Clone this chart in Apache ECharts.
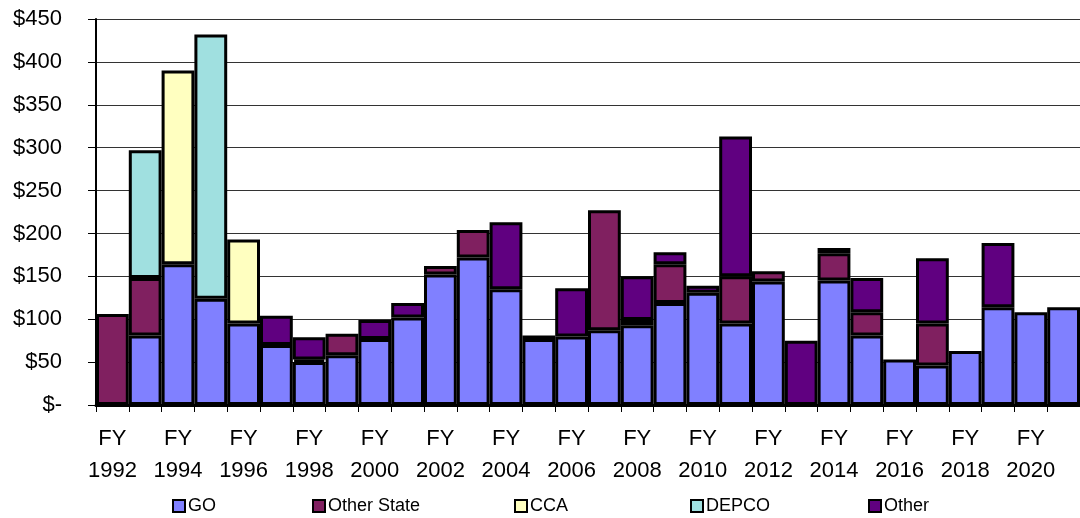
<!DOCTYPE html>
<html>
<head>
<meta charset="utf-8">
<script src="https://cdn.jsdelivr.net/npm/echarts@6/dist/echarts.min.js"></script>
<style>
  html, body { margin: 0; padding: 0; background: #fff; }
  #chart { width: 1080px; height: 518px; }
</style>
</head>
<body>
<div id="chart"></div>
<script>
// fiscal years FY1992 - FY2021
const years = [1992, 1993, 1994, 1995, 1996, 1997, 1998, 1999, 2000, 2001,
  2002, 2003, 2004, 2005, 2006, 2007, 2008, 2009, 2010, 2011,
  2012, 2013, 2014, 2015, 2016, 2017, 2018, 2019, 2020, 2021];

// $ millions (null = no piece)
const go = [null, 81, 164, 124, 95, 70, 50, 58, 77, 102,
  152, 172, 135, 77, 80, 87, 93, 119, 131, 95,
  144, null, 145, 81, 53, 46, 63, 114, 108, 114];
const otherState = [106, 67, null, null, null, null, 3, 25, null, null,
  10, 32, null, 4, null, 140, 6, 45, null, 55,
  12, null, 32, 27, null, 49, null, null, null, null];
const cca = [null, null, 226, null, 98, null, null, null, null, null,
  null, null, null, null, null, null, null, null, null, null,
  null, null, null, null, null, null, null, null, null, null];
const depco = [null, 149, null, 308, null, null, null, null, null, null,
  null, null, null, null, null, null, null, null, null, null,
  null, null, null, null, null, null, null, null, null, null];
const other = [null, null, null, null, null, 34, 26, null, 22, 17,
  null, null, 78, null, 56, null, 51, 14, 8, 163,
  null, 75, 6, 40, null, 76, null, 75, null, null];

const seriesNames = ['GO', 'Other State', 'CCA', 'DEPCO', 'Other'];
const seriesColors = ['#8080ff', '#802060', '#ffffc0', '#a0e0e0', '#600080'];
const seriesData = [go, otherState, cca, depco, other];
const legendLeft = [172, 312, 514, 690, 868];

const font = '"Liberation Sans", Arial, sans-serif';

let chart = echarts.init(document.getElementById('chart'));

let options = {
  animation: false,
  backgroundColor: '#fff',
  textStyle: { fontFamily: font, color: '#000' },
  grid: { left: 96, right: -9, top: 19, bottom: 113, containLabel: false },
  legend: seriesNames.map((name, i) => {
    return {
      data: [name],
      left: legendLeft[i],
      top: 497,
      padding: 0,
      itemWidth: 12,
      itemHeight: 12,
      itemGap: 4,
      icon: 'rect',
      itemStyle: { borderColor: '#000', borderWidth: 2 },
      textStyle: { fontFamily: font, fontSize: 18, color: '#000', padding: [0, 0, 0, -2] }
    }
  }),
  xAxis: {
    type: 'category',
    data: years.map(y => 'FY\n' + y),
    axisLine: { lineStyle: { color: '#000', width: 3 } },
    axisTick: { show: true, interval: 0, length: 7, lineStyle: { color: '#000', width: 1 } },
    axisLabel: {
      interval: 1,
      margin: 18,
      fontFamily: font,
      fontSize: 22,
      lineHeight: 32,
      color: '#000'
    }
  },
  yAxis: {
    type: 'value',
    min: 0,
    max: 450,
    interval: 50,
    axisLine: { show: true, lineStyle: { color: '#000', width: 2 } },
    axisTick: { show: true, length: 8, lineStyle: { color: '#000' } },
    splitLine: { show: true, lineStyle: { color: '#333', width: 1 } },
    axisLabel: {
      margin: 34,
      fontFamily: font,
      fontSize: 22,
      color: '#000',
      formatter: v => v === 0 ? '$-' : '$' + v
    }
  },
  series: seriesNames.map((name, i) => {
    return {
      name: name,
      type: 'bar',
      stack: 'total',
      barWidth: '100%',
      barCategoryGap: 0,
      data: seriesData[i],
      itemStyle: { color: seriesColors[i], borderColor: '#000', borderWidth: 3 }
    }
  })
};

chart.setOption(options);
</script>
</body>
</html>
